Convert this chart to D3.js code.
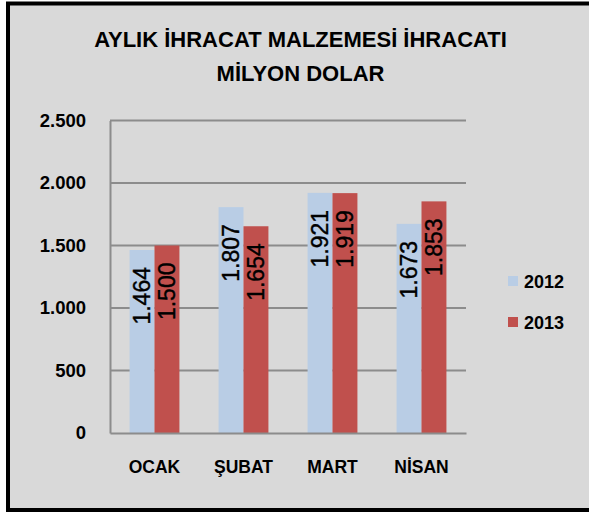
<!DOCTYPE html>
<html><head><meta charset="utf-8">
<script src="https://cdn.jsdelivr.net/npm/d3@7"></script>
<style>body{margin:0;background:#fff}svg{display:block}</style>
</head><body>
<svg id="c" width="589" height="512"></svg>
<script>
const categories = ["OCAK", "ŞUBAT", "MART", "NİSAN"];
const seriesNames = ["2012", "2013"];
const values2012 = [1464, 1807, 1921, 1673];
const values2013 = [1500, 1654, 1919, 1853];
const yTicks = [0, 500, 1000, 1500, 2000, 2500];
const titleLines = ["AYLIK İHRACAT MALZEMESİ İHRACATI", "MİLYON DOLAR"];
const colors = ["#b9cde5", "#c0504d"];

const svg = d3.select("#c");
const font = "'Liberation Sans', Arial, sans-serif";
// background & frame
svg.append("rect").attr("x", 8).attr("y", 3.5).attr("width", 600).attr("height", 506.5)
  .attr("fill", "#d9d9d9").attr("stroke", "#000").attr("stroke-width", 4);

const L = 110, R = 466, T = 120.5, B = 433;
const x0 = d3.scaleBand().domain(categories).range([L, R]).paddingInner(0.44).paddingOuter(0.22);
const x1 = d3.scaleBand().domain(seriesNames).range([0, x0.bandwidth()]);
const y = d3.scaleLinear().domain([0, 2500]).range([B, T]);
const fmt = v => d3.format(",")(v).replace(/,/g, ".");

// title
svg.append("g").selectAll("text").data(titleLines).join("text")
  .attr("x", 300.5).attr("y", (d, i) => 47 + i * 33.5)
  .attr("text-anchor", "middle").attr("font-family", font).attr("font-weight", "bold")
  .attr("font-size", 22).attr("fill", "#000").text(d => d);

// gridlines
svg.append("g").selectAll("line").data(yTicks.filter(t => t > 0)).join("line")
  .attr("x1", L).attr("x2", R).attr("y1", d => y(d)).attr("y2", d => y(d))
  .attr("stroke", "#8c8c8c").attr("stroke-width", 2);

// y axis
const yAxis = svg.append("g").attr("transform", `translate(${L},0)`)
  .call(d3.axisLeft(y).tickValues(yTicks).tickSize(0).tickPadding(24).tickFormat(fmt));
yAxis.select(".domain").attr("stroke", "#8c8c8c").attr("stroke-width", 2);
yAxis.selectAll("text").attr("font-family", font).attr("font-weight", "bold").attr("font-size", 18.5).attr("fill", "#000");

// bars
const data = categories.map((c, i) => ({c, vals: [values2012[i], values2013[i]]}));
const groups = svg.append("g").selectAll("g").data(data).join("g")
  .attr("transform", d => `translate(${x0(d.c)},0)`);
groups.selectAll("rect").data(d => d.vals.map((v, j) => ({s: seriesNames[j], v, j}))).join("rect")
  .attr("x", d => x1(d.s)).attr("width", x1.bandwidth())
  .attr("y", d => y(d.v)).attr("height", d => B - y(d.v))
  .attr("fill", d => colors[d.j]);
groups.selectAll("text").data(d => d.vals.map((v, j) => ({s: seriesNames[j], v, j}))).join("text")
  .attr("transform", d => `translate(${x1(d.s) + x1.bandwidth() / 2 + 8},${y(d.v) + 17}) rotate(-90)`)
  .attr("text-anchor", "end").attr("font-family", font).attr("font-size", 23)
  .attr("stroke", "#000").attr("stroke-width", 0.4)
  .attr("fill", "#000").text(d => fmt(d.v));

// x axis
const xAxis = svg.append("g").attr("transform", `translate(0,${B})`)
  .call(d3.axisBottom(x0).tickSize(0).tickPadding(28));
xAxis.select(".domain").attr("stroke", "#8c8c8c").attr("stroke-width", 2);
xAxis.selectAll("text").attr("font-family", font).attr("font-weight", "bold").attr("font-size", 17.5).attr("fill", "#000");

// legend
const lg = svg.append("g").selectAll("g").data(seriesNames).join("g")
  .attr("transform", (d, i) => `translate(508,${281 + i * 41})`);
lg.append("rect").attr("x", 0).attr("y", -5).attr("width", 10).attr("height", 10).attr("fill", (d, i) => colors[i]);
lg.append("text").attr("x", 16).attr("y", 6.5).attr("font-family", font).attr("font-weight", "bold")
  .attr("font-size", 18).attr("fill", "#000").text(d => d);
</script>
</body></html>
